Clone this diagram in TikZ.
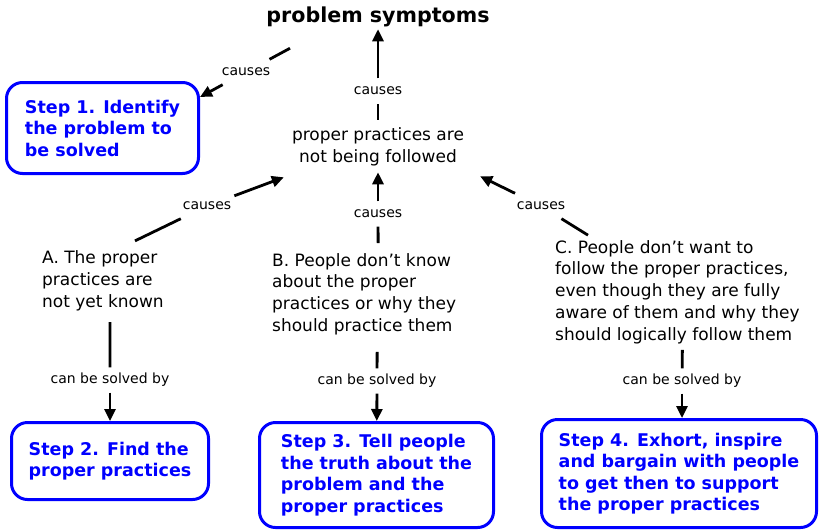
\documentclass[tikz,border=0pt]{standalone}
\usepackage{fontspec}
\setmainfont{DejaVu Sans}
\usetikzlibrary{positioning, calc, arrows.meta}
\tikzstyle{Arrow} = [
    line width = 2.8pt,
    -{Triangle[length=12pt, width=11pt]}
]
\tikzstyle{Line} = [
    line width = 2.8pt
]

\begin{document}
\begin{tikzpicture}[
x = 1pt, y = -1pt,
concept/.style = {
    align = left,
    inner sep = 8pt,
    font = \fontsize{17}{21.7}\selectfont
    },
stepbox/.style = {
    draw = blue,
    line width = 3pt,
    rounded corners = 16pt,
    text = blue,
    align = left,
    font = \fontsize{17.5}{21.5}\selectfont\bfseries
    },
link/.style = {
    fill = white,
    inner xsep = 3pt,
    inner ysep = 6pt,
    text height = 10pt,
    text depth = 3pt,
    font = \fontsize{14}{16}\selectfont
    }
]
\useasboundingbox (0,0) rectangle (819,531);

\node [font=\fontsize{20.6}{24}\selectfont\bfseries, inner sep=2pt] (title) at (378,17) {problem symptoms};
\node [stepbox, minimum width=192pt, minimum height=91pt] (step1) at (102.5,128) {Step 1. Identify\\the problem to\\be solved};
\node [concept, align=center] (pp) at (378,147) {proper practices are\\not being followed};

\node [concept, anchor=west] (A) at (34,281) {A. The proper\\practices are\\not yet known};
\node [concept, anchor=west] (B) at (264,294) {B. People don't know\\about the proper\\practices or why they\\should practice them};
\node [concept, anchor=west] (C) at (547,292) {C. People don't want to\\follow the proper practices,\\even though they are fully\\aware of them and why they\\should logically follow them};

\node [stepbox, minimum width=197pt, minimum height=77pt] (step2) at (110,461) {Step 2. Find the\\proper practices};
\node [stepbox, minimum width=234pt, minimum height=105pt] (step3) at (376.5,475) {Step 3. Tell people\\the truth about the\\problem and the\\proper practices};
\node [stepbox, minimum width=275pt, minimum height=108pt] (step4) at (679,473.5) {Step 4. Exhort, inspire\\and bargain with people\\to get then to support\\the proper practices};

\node [link] (c1) at (246,72) {causes};
\node [link] (c2) at (378,91) {causes};
\node [link] (c3) at (207,206) {causes};
\node [link] (c4) at (378,214) {causes};
\node [link] (c5) at (541,206) {causes};
\node [link] (c6) at (110,380) {can be solved by};
\node [link] (c7) at (377,381) {can be solved by};
\node [link] (c8) at (682,381) {can be solved by};

\draw [Line] ([xshift=-88pt, yshift=-19pt]title.south) -- (c1);
\draw [Arrow] (c1) -- ([yshift=-16pt]step1.north east);

\draw [Line] (pp) -- (c2);
\draw [Arrow] (c2) -- (title);

\draw [Line] ([xshift=32pt, yshift=2pt]A.north) -- (c3);
\draw [Arrow] (c3) -- ([yshift=-3pt]pp.south west);
\draw [Line] ([xshift=14pt, yshift=2pt]B.north) -- (c4);
\draw [Arrow] (c4) -- ([yshift=2pt]pp.south);
\draw [Line] ([xshift=41pt, yshift=-3pt]C.north west) -- (c5);
\draw [Arrow] (c5) -- ([xshift=8pt, yshift=-2pt]pp.south east);

\draw [Line] ([xshift=7pt, yshift=-3pt]A.south) -- (c6);
\draw [Arrow] (c6) -- (step2);
\draw [Line] ([xshift=13pt, yshift=-9pt]B.south) -- (c7);
\draw [Arrow] (c7) -- (step3);
\draw [Line] ([xshift=5pt, yshift=2pt]C.south) -- (c8);
\draw [Arrow] (c8) -- ([xshift=3pt]step4.north);

\end{tikzpicture}
\end{document}
